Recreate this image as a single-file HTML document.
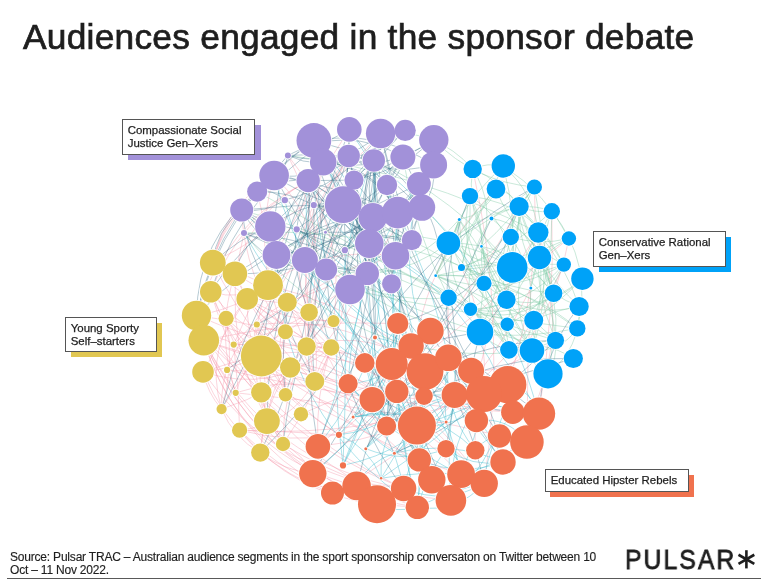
<!DOCTYPE html>
<html><head><meta charset="utf-8"><style>
html,body{margin:0;padding:0;background:#fff;}
.t{will-change:transform;}
body{width:768px;height:587px;position:relative;overflow:hidden;font-family:"Liberation Sans",sans-serif;color:#1e1e1e;}
.title{position:absolute;left:22.5px;top:17px;font-size:35.3px;font-weight:normal;-webkit-text-stroke:0.7px #1e1e1e;white-space:nowrap;letter-spacing:0.26px;}
.lab{position:absolute;background:#fff;border:1px solid #555;font-size:11.45px;line-height:13px;color:#1e1e1e;box-sizing:border-box;padding:4px 0 0 4.7px;-webkit-text-stroke:0.25px #1e1e1e;white-space:nowrap;}
.sh{position:absolute;}
.src{position:absolute;left:9.5px;top:550.5px;font-size:12px;line-height:13.3px;letter-spacing:-0.2px;-webkit-text-stroke:0.15px #1e1e1e;color:#1e1e1e;white-space:nowrap;}
.rule{position:absolute;left:7px;top:578px;width:754px;height:1px;background:#595959;}
.logo{position:absolute;left:624.5px;top:543.5px;font-size:27.6px;letter-spacing:2.2px;-webkit-text-stroke:0.8px #1e1e1e;transform:scaleX(0.9);transform-origin:0 0;color:#1e1e1e;white-space:nowrap;}
svg{position:absolute;left:0;top:0;}
</style></head><body>
<div class="title t">Audiences engaged in the sponsor debate</div>
<svg width="768" height="587" viewBox="0 0 768 587">
<path fill="none" stroke="#f59aae" stroke-width="0.7" stroke-opacity="0.6" d="M261.3 392.4Q278.8 364.2 285.4 331.7M285.4 331.7Q307.6 352.1 314.8 381.4M261.3 356.0Q233.4 368.6 203.0 371.9M287.3 302.3Q238.3 304.7 212.8 262.7M306.6 346.5Q316.0 329.5 333.5 321.1M261.3 392.4Q264.8 406.6 266.9 421.1M287.3 302.3Q256.2 356.8 221.6 409.1M268.0 285.2Q240.9 301.3 210.8 291.8M309.1 312.3Q279.3 346.9 233.7 344.6M331.2 347.5Q273.8 395.0 203.0 371.9M301.0 414.2Q245.2 370.0 247.2 298.9M235.7 392.8Q228.5 361.2 203.8 340.3M331.2 347.5Q256.1 351.8 210.8 291.8M331.2 347.5Q314.2 399.3 283.0 444.0M221.6 409.1Q203.0 346.7 247.2 298.9M210.8 291.8Q233.8 353.7 285.5 394.7M266.9 421.1Q242.5 352.9 268.0 285.2M283.0 444.0Q282.4 392.2 306.6 346.5M221.6 409.1Q233.3 437.7 260.3 452.6M203.0 371.9Q207.4 393.0 221.6 409.1M226.1 318.3Q223.7 302.0 210.8 291.8M256.8 324.5Q269.7 310.2 287.3 302.3M285.5 394.7Q288.2 352.6 256.8 324.5M333.5 321.1Q287.1 322.7 247.2 298.9M260.3 452.6Q264.9 391.4 306.6 346.5M256.8 324.5Q270.9 359.7 285.5 394.7M203.8 340.3Q219.9 334.1 233.7 344.6M287.3 302.3Q285.2 334.4 261.3 356.0M260.3 452.6Q272.4 388.2 256.8 324.5M283.0 444.0Q254.7 404.3 261.3 356.0M221.6 409.1Q219.7 358.7 256.8 324.5M331.2 347.5Q289.1 302.7 234.9 273.7M233.7 344.6Q239.1 387.2 239.6 430.2M331.2 347.5Q319.2 362.6 314.8 381.4M256.8 324.5Q270.2 348.6 290.2 367.5M261.3 356.0Q241.9 369.8 235.7 392.8M256.8 324.5Q249.8 341.6 261.3 356.0M314.8 381.4Q274.1 345.8 247.2 298.9M261.3 392.4Q232.6 343.8 210.8 291.8M287.3 302.3Q272.9 348.2 285.5 394.7M234.9 273.7Q249.0 312.4 285.4 331.7M256.8 324.5Q270.5 330.5 285.4 331.7M239.6 430.2Q289.7 425.1 314.8 381.4M283.0 444.0Q257.9 381.1 203.8 340.3M235.7 392.8Q215.4 333.4 234.9 273.7M285.4 331.7Q280.7 363.2 285.5 394.7M309.1 312.3Q323.0 328.1 331.2 347.5M234.9 273.7Q241.2 286.2 247.2 298.9M314.8 381.4Q269.9 372.6 233.7 344.6M331.2 347.5Q282.5 344.1 233.7 344.6M309.1 312.3Q320.2 346.2 314.8 381.4M247.2 298.9Q223.2 311.3 196.5 315.5M266.9 421.1Q271.5 375.7 306.6 346.5M221.6 409.1Q235.2 364.3 226.1 318.3M333.5 321.1Q291.4 320.3 268.0 285.2M344.9 250.2Q352.2 320.9 314.8 381.4M348.7 156.0Q288.5 262.2 314.8 381.4M274.1 175.5Q332.5 233.4 309.1 312.3M241.7 210.0Q244.4 277.7 285.4 331.7M380.6 133.5Q308.5 213.4 212.8 262.7M373.8 160.5Q318.4 245.6 306.6 346.5M257.2 191.6Q273.3 271.8 306.6 346.5M411.8 240.1Q330.3 275.0 256.8 324.5M274.1 175.5Q250.2 255.7 285.4 331.7M287.9 155.4Q335.6 247.2 306.6 346.5M348.7 156.0Q294.7 244.0 306.6 346.5M367.3 273.4Q326.6 375.8 221.6 409.1M418.9 184.0Q365.3 309.3 233.7 344.6M244.0 233.0Q214.1 347.6 283.0 444.0M348.7 156.0Q292.5 224.9 309.1 312.3M323.2 162.1Q310.6 269.1 233.7 344.6M313.8 205.1Q285.6 257.6 309.1 312.3M411.8 240.1Q354.1 280.2 287.3 302.3M287.9 155.4Q347.8 228.0 333.5 321.1M349.3 129.4Q281.0 231.3 233.7 344.6M395.5 255.8Q311.8 244.6 247.2 298.9M276.5 255.0Q236.0 311.1 203.0 371.9M203.8 340.3Q289.3 366.2 372.2 399.6M227.1 369.9Q381.0 406.6 539.0 413.6M247.2 298.9Q350.0 369.3 446.0 448.7M283.0 444.0Q302.6 454.1 312.8 473.6M196.5 315.5Q349.0 334.7 476.4 420.6M227.1 369.9Q365.7 373.6 461.1 474.2M247.2 298.9Q364.8 391.2 512.8 412.3M285.5 394.7Q366.4 424.0 431.8 479.8M226.1 318.3Q307.7 430.3 446.1 422.0M256.8 324.5Q350.4 314.2 425.0 371.6M203.0 371.9Q313.9 331.2 425.0 371.6M247.2 298.9Q305.6 371.6 396.8 391.4M235.7 392.8Q383.2 406.0 526.9 442.0M196.5 315.5Q306.1 362.5 425.0 371.6M268.0 285.2Q396.0 316.2 476.4 420.6M261.3 356.0Q355.0 367.4 394.4 453.2M261.3 356.0Q291.0 404.4 338.9 434.8M331.2 347.5Q424.3 396.7 484.2 483.4M212.8 262.7Q323.5 300.2 396.8 391.4M235.7 392.8Q321.0 364.6 386.6 426.0M226.1 318.3Q268.4 390.2 338.9 434.8M314.8 381.4Q388.5 434.5 450.9 500.4M226.1 318.3Q278.4 367.3 348.1 383.7M283.0 444.0Q360.2 492.4 450.9 500.4M239.6 430.2Q365.7 438.4 484.0 394.0M301.0 414.2Q373.1 381.9 448.4 357.8M203.8 340.3Q365.8 402.7 539.0 413.6M268.0 285.2Q330.9 337.9 353.1 417.0M261.3 356.0Q399.0 373.8 484.2 483.4M239.6 430.2Q289.3 431.5 338.9 434.8M212.8 262.7Q291.5 421.9 461.1 474.2M331.2 347.5Q315.0 395.7 317.9 446.4M239.6 430.2Q339.9 456.8 424.0 396.1M203.8 340.3Q299.7 318.9 397.8 323.5M306.6 346.5Q372.8 326.2 425.0 371.6M484.0 394.0Q488.3 327.9 461.5 267.4M317.9 446.4Q493.5 426.7 563.8 264.6M317.9 446.4Q441.1 339.7 568.9 238.5M476.4 420.6Q443.7 363.4 448.6 297.7M526.9 442.0Q527.0 365.0 530.8 288.1M338.9 434.8Q450.8 337.9 519.1 206.5M503.0 462.0Q579.7 356.3 538.3 232.5M416.9 425.6Q397.6 287.6 496.0 189.0M332.5 493.0Q466.6 424.3 530.8 288.1M471.1 370.8Q505.6 372.8 532.0 350.5M484.2 483.4Q508.1 325.1 472.7 168.9M507.8 384.7Q539.6 288.3 534.4 187.0M539.0 413.6Q554.9 313.0 551.8 211.2M484.0 394.0Q552.2 330.3 568.9 238.5M475.3 450.2Q468.7 330.3 538.3 232.5M196.5 315.5Q223.5 435.7 332.5 493.0M203.8 340.3Q267.3 463.4 403.6 488.5M196.5 315.5Q276.7 429.9 403.6 488.5M203.0 371.9Q276.0 477.1 403.6 488.5M203.8 340.3Q238.1 423.4 312.8 473.6M203.8 340.3Q264.4 482.9 417.3 507.4M260.3 452.6Q283.6 470.4 312.8 473.6M203.8 340.3Q259.8 454.6 377.0 504.3M210.8 291.8Q257.7 453.6 417.3 507.4M196.5 315.5Q271.3 436.5 403.6 488.5M239.6 430.2Q313.3 503.6 417.3 507.4M239.6 430.2Q293.7 494.4 377.0 504.3M203.8 340.3Q238.3 457.1 356.6 485.9M203.0 371.9Q240.8 461.2 332.5 493.0M212.8 262.7Q220.3 232.5 241.7 210.0M212.8 262.7Q222.9 219.6 257.2 191.6M210.8 291.8Q238.9 218.1 308.2 180.6M196.5 315.5Q223.8 224.4 308.2 180.6M212.8 262.7Q224.6 205.9 274.1 175.5M234.9 273.7Q251.6 211.5 308.2 180.6"/>
<path fill="none" stroke="#7fcaa6" stroke-width="0.7" stroke-opacity="0.6" d="M551.8 211.2Q534.8 213.4 519.1 206.5M503.3 166.0Q546.1 193.2 568.9 238.5M459.3 219.4Q461.2 281.9 507.2 324.3M563.8 264.6Q526.6 306.6 470.5 309.3M508.9 349.9Q533.4 350.7 555.5 340.3M519.1 206.5Q506.5 252.2 461.5 267.4M568.9 238.5Q517.7 266.8 507.2 324.3M461.5 267.4Q471.5 232.4 470.0 196.1M563.8 264.6Q545.2 232.6 519.1 206.5M512.2 267.4Q511.9 224.1 534.4 187.0M548.0 373.8Q580.8 348.1 579.1 306.5M461.5 267.4Q447.2 244.0 459.3 219.4M539.5 257.5Q526.5 224.4 491.5 218.4M563.8 264.6Q515.4 239.8 496.0 189.0M435.7 275.7Q484.7 298.0 533.7 320.2M568.9 238.5Q517.9 262.8 461.5 267.4M470.0 196.1Q535.9 204.3 563.8 264.6M508.9 349.9Q491.7 345.4 480.0 332.0M533.7 320.2Q553.1 267.4 551.8 211.2M507.2 324.3Q530.9 333.6 555.5 340.3M470.5 309.3Q494.4 325.2 508.9 349.9M448.4 243.2Q482.6 249.3 512.2 267.4M459.3 219.4Q438.5 267.6 470.5 309.3M496.0 189.0Q486.5 214.9 459.3 219.4M563.8 264.6Q547.6 305.9 507.2 324.3M519.1 206.5Q517.1 257.5 553.6 293.2M435.7 275.7Q489.7 278.6 539.5 257.5M568.9 238.5Q539.6 245.8 510.8 237.0M506.5 299.8Q550.4 310.8 582.4 278.7M548.0 373.8Q526.3 333.6 530.8 288.1M484.0 283.4Q462.7 266.4 448.4 243.2M553.6 293.2Q535.0 250.4 519.1 206.5M508.9 349.9Q479.6 302.3 481.5 246.4M472.7 168.9Q501.2 181.1 519.1 206.5M519.1 206.5Q530.3 218.3 538.3 232.5M470.0 196.1Q487.3 238.1 484.0 283.4M512.2 267.4Q518.8 237.3 519.1 206.5M532.0 350.5Q546.3 292.1 538.3 232.5M555.5 340.3Q532.9 288.6 538.3 232.5M538.3 232.5Q533.8 192.4 503.3 166.0M470.0 196.1Q508.8 221.2 512.2 267.4M503.3 166.0Q476.9 189.1 459.3 219.4M551.8 211.2Q536.2 252.6 553.6 293.2M539.5 257.5Q559.2 296.6 555.5 340.3M508.9 349.9Q543.2 338.4 573.3 358.5M480.0 332.0Q534.4 313.8 563.8 264.6M448.4 243.2Q476.8 264.5 512.2 267.4M553.6 293.2Q542.7 240.3 534.4 187.0M435.7 275.7Q477.2 225.6 503.3 166.0M481.5 246.4Q511.5 219.9 534.4 187.0M484.0 283.4Q452.9 258.6 459.3 219.4M461.5 267.4Q513.1 249.7 551.8 211.2M532.0 350.5Q482.3 315.1 435.7 275.7M484.0 283.4Q521.7 254.1 519.1 206.5M470.0 196.1Q454.8 236.7 435.7 275.7M508.9 349.9Q530.1 342.4 533.7 320.2M553.6 293.2Q513.5 241.9 448.4 243.2M448.4 243.2Q494.1 219.3 534.4 187.0M538.3 232.5Q552.0 292.4 532.0 350.5M506.5 299.8Q487.9 256.7 459.3 219.4M508.9 349.9Q504.3 297.6 461.5 267.4M506.5 299.8Q509.3 283.6 512.2 267.4M555.5 340.3Q504.2 349.0 470.5 309.3M533.7 320.2Q500.8 322.3 470.5 309.3M538.3 232.5Q565.6 265.7 579.1 306.5M530.8 288.1Q525.4 245.2 491.5 218.4M582.4 278.7Q533.4 319.5 470.5 309.3M481.5 246.4Q495.8 205.5 472.7 168.9M435.7 275.7Q498.9 260.3 563.8 264.6M470.5 309.3Q516.9 326.1 553.6 293.2M534.4 187.0Q491.7 236.3 506.5 299.8M461.5 267.4Q468.4 223.7 496.0 189.0M496.0 189.0Q458.8 227.5 435.7 275.7M461.5 267.4Q484.0 296.2 507.2 324.3M481.5 246.4Q484.9 277.4 506.5 299.8M470.5 309.3Q507.3 343.8 548.0 373.8M519.1 206.5Q512.1 191.7 496.0 189.0M579.1 306.5Q555.5 310.2 533.7 320.2M459.3 219.4Q448.0 247.8 435.7 275.7M510.8 237.0Q500.3 286.1 480.0 332.0M435.7 275.7Q461.0 272.5 484.0 283.4M563.8 264.6Q513.0 278.2 470.5 309.3M484.0 283.4Q480.3 307.6 480.0 332.0M470.5 309.3Q462.9 259.7 491.5 218.4M510.8 237.0Q513.8 207.9 534.4 187.0M555.5 340.3Q557.4 358.3 548.0 373.8M582.4 278.7Q559.9 301.6 533.7 320.2M539.5 257.5Q519.3 236.0 519.1 206.5M530.8 288.1Q532.7 272.1 539.5 257.5M481.5 246.4Q483.3 219.5 470.0 196.1M579.1 306.5Q565.7 301.2 553.6 293.2M553.6 293.2Q505.0 289.2 461.5 267.4M461.5 267.4Q491.3 273.5 506.5 299.8M448.4 243.2Q478.7 215.1 519.1 206.5M539.5 257.5Q548.7 274.5 553.6 293.2M484.0 283.4Q457.5 242.9 470.0 196.1M507.2 324.3Q491.4 320.5 480.0 332.0M532.0 350.5Q560.9 352.3 577.3 328.4M539.5 257.5Q538.0 232.3 551.8 211.2M538.3 232.5Q501.7 289.7 532.0 350.5M551.8 211.2Q593.7 263.5 577.3 328.4M503.3 166.0Q487.5 162.3 472.7 168.9M512.2 267.4Q516.6 215.9 503.3 166.0M484.0 283.4Q476.5 249.5 459.3 219.4M532.0 350.5Q522.7 334.4 507.2 324.3M491.5 218.4Q519.8 199.3 551.8 211.2M532.0 350.5Q499.8 301.8 481.5 246.4M512.2 267.4Q463.5 229.8 472.7 168.9M484.0 283.4Q536.6 293.5 577.3 328.4M530.8 288.1Q534.7 272.7 539.5 257.5M539.5 257.5Q561.4 314.4 548.0 373.8M579.1 306.5Q525.4 320.3 484.0 283.4M481.5 246.4Q496.8 310.4 555.5 340.3M579.1 306.5Q534.5 265.2 519.1 206.5M512.2 267.4Q554.2 291.7 555.5 340.3M506.5 299.8Q490.2 311.1 470.5 309.3M435.7 275.7Q491.6 293.8 508.9 349.9M555.5 340.3Q507.9 301.7 481.5 246.4M481.5 246.4Q497.3 256.3 512.2 267.4M563.8 264.6Q502.4 300.2 435.7 275.7M344.9 250.2Q395.2 225.6 448.4 243.2M241.7 210.0Q399.6 253.8 532.0 350.5M350.0 289.5Q462.7 314.5 577.3 328.4M326.1 269.5Q440.8 256.6 508.9 349.9M421.9 207.5Q490.4 268.6 532.0 350.5M304.9 260.0Q381.6 293.8 448.4 243.2M257.2 191.6Q362.9 252.2 470.5 309.3M402.9 157.0Q414.1 231.1 448.6 297.7M313.8 205.1Q392.1 225.8 461.5 267.4M380.6 133.5Q435.7 127.7 472.7 168.9M296.7 229.3Q369.4 270.8 448.6 297.7M373.8 160.5Q455.6 197.6 512.2 267.4M244.0 233.0Q354.8 373.2 532.0 350.5M244.0 233.0Q427.1 223.1 577.3 328.4M433.8 139.8Q475.3 182.1 534.4 187.0M241.7 210.0Q350.4 291.3 480.0 332.0M287.9 155.4Q419.9 171.9 538.3 232.5M296.7 229.3Q407.5 362.4 577.3 328.4M367.3 273.4Q422.4 261.8 459.3 219.4M326.1 269.5Q382.6 304.4 448.6 297.7"/>
<path fill="none" stroke="#3dbbd0" stroke-width="0.7" stroke-opacity="0.6" d="M461.1 474.2Q420.8 471.0 381.1 478.3M484.0 394.0Q436.7 441.3 381.1 478.3M348.1 383.7Q389.8 381.8 411.1 346.0M396.8 391.4Q401.0 411.4 386.6 426.0M396.8 391.4Q381.8 416.0 353.1 417.0M411.1 346.0Q420.8 370.2 424.0 396.1M446.1 422.0Q466.4 390.6 448.4 357.8M372.2 399.6Q418.2 410.5 446.0 448.7M450.9 500.4Q444.4 487.3 431.8 479.8M348.1 383.7Q374.0 418.6 416.9 425.6M446.0 448.7Q405.9 464.6 365.8 448.7M397.8 323.5Q386.5 347.6 364.8 362.9M475.3 450.2Q423.3 400.2 353.1 417.0M507.8 384.7Q465.9 413.0 416.9 425.6M364.8 362.9Q390.0 360.2 411.1 346.0M454.6 395.0Q477.1 429.7 503.0 462.0M365.8 448.7Q404.5 412.4 454.6 395.0M512.8 412.3Q487.1 443.3 484.2 483.4M375.0 337.4Q420.6 369.8 416.9 425.6M539.0 413.6Q499.6 391.8 454.6 395.0M417.3 507.4Q426.8 475.7 446.0 448.7M446.0 448.7Q460.5 457.3 461.1 474.2M476.4 420.6Q508.0 416.3 526.9 442.0M417.3 507.4Q457.2 513.3 484.2 483.4M391.7 364.0Q417.5 355.1 430.4 331.0M425.0 371.6Q371.9 407.9 343.0 465.4M394.4 453.2Q410.4 443.3 416.9 425.6M338.9 434.8Q369.6 447.3 381.1 478.3M381.1 478.3Q378.3 424.6 424.0 396.1M396.8 391.4Q425.4 446.2 417.3 507.4M446.1 422.0Q422.8 441.9 394.4 453.2M419.3 459.9Q432.7 425.2 454.6 395.0M353.1 417.0Q377.2 394.0 391.7 364.0M403.6 488.5Q411.3 446.6 446.1 422.0M338.9 434.8Q400.4 428.4 425.0 371.6M539.0 413.6Q515.2 463.3 461.1 474.2M425.0 371.6Q389.1 394.4 353.1 417.0M365.8 448.7Q386.5 413.1 424.0 396.1M353.1 417.0Q371.1 438.1 394.4 453.2M403.6 488.5Q392.2 427.5 348.1 383.7M476.4 420.6Q495.8 437.4 503.0 462.0M539.0 413.6Q496.1 407.4 454.6 395.0M424.0 396.1Q471.0 390.1 512.8 412.3M454.6 395.0Q457.4 410.7 446.1 422.0M484.0 394.0Q447.8 441.1 450.9 500.4M450.9 500.4Q436.6 460.2 394.4 453.2M425.0 371.6Q410.7 348.0 397.8 323.5M484.0 394.0Q411.3 392.0 365.8 448.7M484.0 394.0Q456.4 385.5 448.4 357.8M417.3 507.4Q396.6 513.2 377.0 504.3M419.3 459.9Q419.7 427.9 424.0 396.1M397.8 323.5Q407.4 349.8 425.0 371.6M503.0 462.0Q471.6 467.6 446.0 448.7M507.8 384.7Q531.4 390.5 539.0 413.6M450.9 500.4Q501.2 453.3 507.8 384.7M446.1 422.0Q400.1 409.5 353.1 417.0M424.0 396.1Q451.4 431.0 461.1 474.2M343.0 465.4Q361.8 412.0 391.7 364.0M386.6 426.0Q368.6 403.7 348.1 383.7M484.2 483.4Q445.2 505.7 403.6 488.5M372.2 399.6Q376.3 414.5 386.6 426.0M353.1 417.0Q374.1 375.0 411.1 346.0M450.9 500.4Q445.8 447.5 454.6 395.0M386.6 426.0Q458.2 437.5 507.8 384.7M338.9 434.8Q353.9 415.7 372.2 399.6M364.8 362.9Q372.8 395.5 386.6 426.0M503.0 462.0Q450.1 439.8 394.4 453.2M471.1 370.8Q421.7 366.9 397.8 323.5M396.8 391.4Q403.8 455.8 450.9 500.4M386.6 426.0Q378.5 393.5 364.8 362.9M503.0 462.0Q460.7 477.4 419.3 459.9M475.3 450.2Q484.5 438.2 499.5 436.0M372.2 399.6Q373.6 377.2 391.7 364.0M381.1 478.3Q407.9 427.9 454.6 395.0M375.0 337.4Q373.2 405.0 343.0 465.4M417.3 507.4Q449.1 490.9 484.2 483.4M372.2 399.6Q413.8 460.7 484.2 483.4M484.0 394.0Q477.1 435.4 461.1 474.2M454.6 395.0Q412.2 451.4 343.0 465.4M386.6 426.0Q420.3 443.6 431.8 479.8M475.3 450.2Q442.4 409.7 448.4 357.8M454.6 395.0Q428.1 347.9 375.0 337.4M317.9 446.4Q357.4 397.7 375.0 337.4M446.1 422.0Q443.0 389.7 448.4 357.8M394.4 453.2Q368.7 461.6 356.6 485.9M433.6 164.9Q353.8 259.8 348.1 383.7M244.0 233.0Q340.9 406.0 539.0 413.6M380.6 133.5Q345.1 330.5 450.9 500.4M397.7 212.6Q381.7 361.7 417.3 507.4M276.5 255.0Q280.7 418.1 417.3 507.4M369.3 243.6Q474.9 299.1 512.8 412.3M313.9 140.5Q396.3 222.9 375.0 337.4M323.2 162.1Q404.7 282.1 386.6 426.0M274.1 175.5Q300.5 294.6 411.1 346.0M373.8 160.5Q374.8 243.6 397.8 323.5M241.7 210.0Q328.7 292.6 396.8 391.4M395.5 255.8Q384.9 383.5 417.3 507.4M296.7 229.3Q426.7 319.7 461.1 474.2M387.0 185.0Q410.8 273.9 391.7 364.0M380.6 133.5Q318.9 294.6 343.0 465.4M313.9 140.5Q306.5 304.3 416.9 425.6M304.9 260.0Q319.9 320.1 364.8 362.9M276.5 255.0Q373.5 301.3 424.0 396.1M373.8 160.5Q497.1 260.5 539.0 413.6M349.3 129.4Q421.4 233.8 448.4 357.8M313.8 205.1Q382.2 261.9 411.1 346.0M367.3 273.4Q349.2 361.8 317.9 446.4M395.5 255.8Q486.6 317.1 539.0 413.6M308.2 180.6Q294.9 284.7 364.8 362.9M313.9 140.5Q380.3 261.7 372.2 399.6M284.8 200.1Q317.7 342.9 454.6 395.0M418.9 184.0Q388.6 297.6 454.6 395.0M372.8 217.3Q440.5 355.4 417.3 507.4M344.9 250.2Q347.5 357.8 343.0 465.4M395.5 255.8Q418.7 389.2 312.8 473.6"/>
<path fill="none" stroke="#2f6680" stroke-width="0.7" stroke-opacity="0.5" d="M373.8 160.5Q395.5 186.4 421.9 207.5M411.8 240.1Q343.5 239.1 308.2 180.6M325.5 232.2Q310.4 238.2 296.7 229.3M348.7 156.0Q363.3 213.9 367.3 273.4M380.6 133.5Q340.2 169.7 287.9 155.4M433.8 139.8Q395.9 163.8 354.0 180.1M344.9 250.2Q377.9 206.1 402.9 157.0M373.8 160.5Q377.4 222.9 391.5 283.7M373.8 160.5Q356.2 216.1 367.3 273.4M308.2 180.6Q331.9 218.7 369.3 243.6M325.5 232.2Q371.2 206.2 418.9 184.0M304.9 260.0Q357.1 219.7 421.9 207.5M257.2 191.6Q273.1 188.9 284.8 200.1M387.0 185.0Q391.5 220.4 395.5 255.8M372.8 217.3Q329.4 248.4 276.5 255.0M411.8 240.1Q352.1 257.8 296.7 229.3M372.8 217.3Q416.8 206.9 433.6 164.9M296.7 229.3Q350.7 193.9 349.3 129.4M350.0 289.5Q374.3 230.1 418.9 184.0M397.7 212.6Q382.0 226.7 369.3 243.6M348.7 156.0Q346.7 180.4 343.2 204.7M387.0 185.0Q337.6 226.3 350.0 289.5M276.5 255.0Q325.0 227.6 354.0 180.1M397.7 212.6Q373.8 167.7 323.2 162.1M397.7 212.6Q338.4 185.8 274.1 175.5M369.3 243.6Q356.3 186.6 380.6 133.5M354.0 180.1Q399.7 171.4 433.8 139.8M369.3 243.6Q341.5 203.9 348.7 156.0M244.0 233.0Q311.0 236.8 367.3 273.4M367.3 273.4Q363.8 236.1 343.2 204.7M397.7 212.6Q330.2 184.5 270.3 226.4M433.6 164.9Q389.4 176.9 348.7 156.0M313.9 140.5Q321.1 203.1 369.3 243.6M257.2 191.6Q287.3 190.9 313.8 205.1M344.9 250.2Q386.2 233.9 421.9 207.5M418.9 184.0Q431.4 163.6 433.8 139.8M411.8 240.1Q393.4 187.6 380.6 133.5M367.3 273.4Q303.2 260.7 244.0 233.0M326.1 269.5Q275.5 272.8 244.0 233.0M405.2 130.4Q358.5 159.0 308.2 180.6M402.9 157.0Q384.2 185.3 372.8 217.3M373.8 160.5Q344.7 148.1 313.9 140.5M344.9 250.2Q383.5 213.1 373.8 160.5M323.2 162.1Q371.3 164.7 405.2 130.4M313.8 205.1Q355.3 214.0 397.7 212.6M402.9 157.0Q360.5 190.4 369.3 243.6M326.1 269.5Q335.6 212.1 387.0 185.0M373.8 160.5Q365.1 188.8 372.8 217.3M326.1 269.5Q301.0 222.0 274.1 175.5M308.2 180.6Q358.1 211.0 395.5 255.8M344.9 250.2Q347.7 202.8 323.2 162.1M387.0 185.0Q371.3 166.0 348.7 156.0M313.8 205.1Q358.7 223.9 395.5 255.8M274.1 175.5Q329.8 214.2 397.7 212.6M411.8 240.1Q394.2 225.5 372.8 217.3M241.7 210.0Q265.1 213.3 284.8 200.1M287.9 155.4Q264.2 182.2 241.7 210.0M397.7 212.6Q375.3 165.5 323.2 162.1M343.2 204.7Q344.0 239.6 326.1 269.5M397.7 212.6Q329.3 211.4 276.5 255.0M348.7 156.0Q318.2 170.2 287.9 155.4M326.1 269.5Q278.1 248.0 241.7 210.0M326.1 269.5Q318.4 205.2 313.9 140.5M397.7 212.6Q384.6 174.5 348.7 156.0M241.7 210.0Q270.0 259.4 326.1 269.5M325.5 232.2Q345.5 213.0 372.8 217.3M244.0 233.0Q276.0 242.9 304.9 260.0M348.7 156.0Q315.3 180.5 274.1 175.5M433.8 139.8Q383.2 174.1 323.2 162.1M326.1 269.5Q350.2 226.3 397.7 212.6M373.8 160.5Q370.4 211.4 395.5 255.8M241.7 210.0Q266.6 176.5 308.2 180.6M308.2 180.6Q331.1 180.4 354.0 180.1M391.5 283.7Q390.8 229.9 418.9 184.0M380.6 133.5Q370.3 177.1 397.7 212.6M391.5 283.7Q392.2 269.6 395.5 255.8M411.8 240.1Q424.7 190.4 433.8 139.8M323.2 162.1Q284.4 200.8 276.5 255.0M313.9 140.5Q378.5 129.2 433.6 164.9M418.9 184.0Q405.9 219.5 395.5 255.8M326.1 269.5Q375.0 226.0 373.8 160.5M380.6 133.5Q345.0 184.5 284.8 200.1M349.3 129.4Q361.4 145.1 373.8 160.5M367.3 273.4Q362.6 210.9 323.2 162.1M418.9 184.0Q411.8 211.6 411.8 240.1M241.7 210.0Q292.3 204.4 343.2 204.7M395.5 255.8Q367.5 209.7 313.8 205.1M241.7 210.0Q268.9 224.9 276.5 255.0M325.5 232.2Q347.8 167.6 405.2 130.4M387.0 185.0Q401.6 174.8 402.9 157.0M433.6 164.9Q436.9 188.7 421.9 207.5M287.9 155.4Q331.2 152.7 373.8 160.5M369.3 243.6Q341.7 181.6 274.1 175.5M325.5 232.2Q369.1 231.2 411.8 240.1M296.7 229.3Q267.5 224.4 241.7 210.0M348.7 156.0Q400.1 160.6 421.9 207.5M367.3 273.4Q335.6 268.9 304.9 260.0M323.2 162.1Q303.3 199.6 270.3 226.4M354.0 180.1Q366.3 226.1 411.8 240.1M402.9 157.0Q345.9 123.7 287.9 155.4M323.2 162.1Q275.1 233.3 309.1 312.3M287.9 155.4Q249.2 274.6 314.8 381.4M308.2 180.6Q271.8 264.8 261.3 356.0M405.2 130.4Q298.1 233.6 314.8 381.4M433.6 164.9Q365.1 275.7 234.9 273.7M373.8 160.5Q269.4 254.9 285.5 394.7M397.7 212.6Q312.1 237.6 247.2 298.9M323.2 162.1Q303.3 237.1 234.9 273.7M349.3 129.4Q350.6 281.3 227.1 369.9M349.3 129.4Q245.3 181.0 210.8 291.8M421.9 207.5Q288.6 218.6 196.5 315.5M344.9 250.2Q294.9 341.0 283.0 444.0M270.3 226.4Q278.1 256.1 268.0 285.2M308.2 180.6Q317.4 244.1 268.0 285.2M348.7 156.0Q267.8 276.2 266.9 421.1M354.0 180.1Q370.2 274.7 306.6 346.5M373.8 160.5Q259.3 261.3 221.6 409.1M308.2 180.6Q313.2 258.6 285.4 331.7M325.5 232.2Q317.7 298.1 256.8 324.5M313.8 205.1Q319.3 335.8 260.3 452.6M421.9 207.5Q367.4 347.4 260.3 452.6M411.8 240.1Q336.8 271.1 306.6 346.5M323.2 162.1Q285.3 290.9 221.6 409.1M325.5 232.2Q309.5 290.8 331.2 347.5M397.7 212.6Q335.7 268.4 306.6 346.5M386.6 426.0Q466.5 355.0 573.3 358.5M312.8 473.6Q442.9 360.9 519.1 206.5M356.6 485.9Q383.5 361.5 484.0 283.4M312.8 473.6Q384.9 360.9 448.4 243.2M365.8 448.7Q436.3 337.7 491.5 218.4M539.0 413.6Q542.0 353.7 579.1 306.5M471.1 370.8Q475.4 351.4 480.0 332.0M411.1 346.0Q445.3 337.6 480.0 332.0M396.8 391.4Q468.4 341.7 555.5 340.3M372.2 399.6Q475.2 391.1 573.3 358.5M397.8 323.5Q472.0 303.4 510.8 237.0M394.4 453.2Q486.1 412.7 555.5 340.3M394.4 453.2Q443.6 371.5 506.5 299.8M317.9 446.4Q376.4 275.2 534.4 187.0M503.0 462.0Q410.0 338.5 470.0 196.1M349.3 129.4Q288.6 283.4 317.9 446.4M372.8 217.3Q397.9 294.8 425.0 371.6M369.3 243.6Q424.4 309.8 396.8 391.4M296.7 229.3Q447.3 314.4 484.2 483.4M373.8 160.5Q378.9 274.2 348.1 383.7M326.1 269.5Q372.1 378.1 431.8 479.8M308.2 180.6Q413.8 300.9 499.5 436.0M325.5 232.2Q426.4 329.8 539.0 413.6M354.0 180.1Q449.0 295.4 499.5 436.0M369.3 243.6Q396.1 333.1 386.6 426.0M343.2 204.7Q405.0 325.2 419.3 459.9M308.2 180.6Q381.0 339.8 450.9 500.4M402.9 157.0Q478.3 294.9 446.0 448.7M387.0 185.0Q419.4 282.3 471.1 370.8M348.7 156.0Q372.9 245.1 375.0 337.4M367.3 273.4Q372.8 350.2 386.6 426.0M380.6 133.5Q418.6 279.0 386.6 426.0M313.9 140.5Q381.1 227.6 375.0 337.4M326.1 269.5Q333.7 403.0 417.3 507.4M380.6 133.5Q319.7 306.2 419.3 459.9M212.8 262.7Q215.9 230.1 241.7 210.0M196.5 315.5Q219.4 204.0 313.9 140.5M196.5 315.5Q223.6 262.8 270.3 226.4M196.5 315.5Q222.2 205.8 313.9 140.5M234.9 273.7Q242.4 242.4 270.3 226.4M268.0 285.2Q246.4 250.6 241.7 210.0M196.5 315.5Q197.8 239.3 257.2 191.6M212.8 262.7Q237.9 238.8 270.3 226.4"/>
<g fill="#fff"><circle cx="313.9" cy="140.5" r="18.2"/><circle cx="323.2" cy="162.1" r="14.1"/><circle cx="349.3" cy="129.4" r="13.1"/><circle cx="380.6" cy="133.5" r="15.5"/><circle cx="405.2" cy="130.4" r="11.4"/><circle cx="348.7" cy="156" r="12.0"/><circle cx="373.8" cy="160.5" r="12.0"/><circle cx="402.9" cy="157" r="13.3"/><circle cx="433.8" cy="139.8" r="15.5"/><circle cx="433.6" cy="164.9" r="14.3"/><circle cx="274.1" cy="175.5" r="15.6"/><circle cx="257.2" cy="191.6" r="10.9"/><circle cx="241.7" cy="210" r="12.3"/><circle cx="308.2" cy="180.6" r="12.5"/><circle cx="287.9" cy="155.4" r="3.8"/><circle cx="284.8" cy="200.1" r="4.0"/><circle cx="313.8" cy="205.1" r="3.9"/><circle cx="343.2" cy="204.7" r="19.2"/><circle cx="354" cy="180.1" r="10.4"/><circle cx="387" cy="185" r="11.0"/><circle cx="418.9" cy="184" r="12.7"/><circle cx="372.8" cy="217.3" r="15.1"/><circle cx="397.7" cy="212.6" r="16.6"/><circle cx="421.9" cy="207.5" r="14.1"/><circle cx="270.3" cy="226.4" r="16.0"/><circle cx="244" cy="233" r="3.8"/><circle cx="296.7" cy="229.3" r="3.9"/><circle cx="325.5" cy="232.2" r="2.3"/><circle cx="276.5" cy="255" r="14.7"/><circle cx="304.9" cy="260" r="13.8"/><circle cx="326.1" cy="269.5" r="11.8"/><circle cx="369.3" cy="243.6" r="15.1"/><circle cx="411.8" cy="240.1" r="10.9"/><circle cx="395.5" cy="255.8" r="14.6"/><circle cx="344.9" cy="250.2" r="3.9"/><circle cx="367.3" cy="273.4" r="12.5"/><circle cx="350" cy="289.5" r="15.6"/><circle cx="391.5" cy="283.7" r="10.3"/><circle cx="472.7" cy="168.9" r="10.0"/><circle cx="470" cy="196.1" r="9.0"/><circle cx="503.3" cy="166" r="12.5"/><circle cx="496" cy="189" r="10.2"/><circle cx="534.4" cy="187" r="8.4"/><circle cx="519.1" cy="206.5" r="10.4"/><circle cx="551.8" cy="211.2" r="9.0"/><circle cx="491.5" cy="218.4" r="2.8"/><circle cx="459.3" cy="219.4" r="2.3"/><circle cx="538.3" cy="232.5" r="11.0"/><circle cx="510.8" cy="237" r="9.0"/><circle cx="568.9" cy="238.5" r="8.0"/><circle cx="481.5" cy="246.4" r="2.1"/><circle cx="448.4" cy="243.2" r="12.6"/><circle cx="512.2" cy="267.4" r="16.1"/><circle cx="539.5" cy="257.5" r="12.5"/><circle cx="563.8" cy="264.6" r="8.0"/><circle cx="461.5" cy="267.4" r="4.3"/><circle cx="435.7" cy="275.7" r="2.2"/><circle cx="484" cy="283.4" r="8.4"/><circle cx="530.8" cy="288.1" r="2.3"/><circle cx="582.4" cy="278.7" r="12.0"/><circle cx="448.6" cy="297.7" r="9.0"/><circle cx="506.5" cy="299.8" r="10.0"/><circle cx="553.6" cy="293.2" r="9.6"/><circle cx="470.5" cy="309.3" r="7.5"/><circle cx="579.1" cy="306.5" r="10.4"/><circle cx="507.2" cy="324.3" r="7.5"/><circle cx="533.7" cy="320.2" r="10.3"/><circle cx="577.3" cy="328.4" r="9.0"/><circle cx="480" cy="332" r="14.1"/><circle cx="555.5" cy="340.3" r="9.4"/><circle cx="508.9" cy="349.9" r="9.6"/><circle cx="532" cy="350.5" r="13.1"/><circle cx="573.3" cy="358.5" r="10.4"/><circle cx="548" cy="373.8" r="15.4"/><circle cx="397.8" cy="323.5" r="11.4"/><circle cx="430.4" cy="331" r="14.1"/><circle cx="375" cy="337.4" r="2.8"/><circle cx="411.1" cy="346" r="13.5"/><circle cx="391.7" cy="364" r="16.8"/><circle cx="364.8" cy="362.9" r="10.6"/><circle cx="425" cy="371.6" r="19.2"/><circle cx="448.4" cy="357.8" r="14.1"/><circle cx="471.1" cy="370.8" r="13.8"/><circle cx="396.8" cy="391.4" r="12.5"/><circle cx="372.2" cy="399.6" r="13.5"/><circle cx="424" cy="396.1" r="9.6"/><circle cx="454.6" cy="395" r="13.8"/><circle cx="507.8" cy="384.7" r="19.4"/><circle cx="484" cy="394" r="18.8"/><circle cx="512.8" cy="412.3" r="12.5"/><circle cx="539" cy="413.6" r="17.0"/><circle cx="476.4" cy="420.6" r="12.5"/><circle cx="499.5" cy="436" r="12.5"/><circle cx="526.9" cy="442" r="17.6"/><circle cx="446.1" cy="422" r="2.3"/><circle cx="446" cy="448.7" r="9.5"/><circle cx="475.3" cy="450.2" r="10.0"/><circle cx="503" cy="462" r="13.5"/><circle cx="416.9" cy="425.6" r="19.8"/><circle cx="386.6" cy="426" r="10.4"/><circle cx="353.1" cy="417" r="2.3"/><circle cx="338.9" cy="434.8" r="3.9"/><circle cx="365.8" cy="448.7" r="2.3"/><circle cx="394.4" cy="453.2" r="2.3"/><circle cx="343" cy="465.4" r="3.9"/><circle cx="381.1" cy="478.3" r="2.1"/><circle cx="419.3" cy="459.9" r="12.5"/><circle cx="431.8" cy="479.8" r="14.5"/><circle cx="403.6" cy="488.5" r="13.5"/><circle cx="356.6" cy="485.9" r="15.1"/><circle cx="332.5" cy="493" r="12.3"/><circle cx="377" cy="504.3" r="19.8"/><circle cx="417.3" cy="507.4" r="12.5"/><circle cx="461.1" cy="474.2" r="14.7"/><circle cx="484.2" cy="483.4" r="14.5"/><circle cx="450.9" cy="500.4" r="16.1"/><circle cx="348.1" cy="383.7" r="10.4"/><circle cx="317.9" cy="446.4" r="13.1"/><circle cx="312.8" cy="473.6" r="14.5"/><circle cx="212.8" cy="262.7" r="13.7"/><circle cx="234.9" cy="273.7" r="13.1"/><circle cx="210.8" cy="291.8" r="11.6"/><circle cx="268" cy="285.2" r="15.7"/><circle cx="247.2" cy="298.9" r="11.6"/><circle cx="287.3" cy="302.3" r="10.3"/><circle cx="196.5" cy="315.5" r="15.5"/><circle cx="226.1" cy="318.3" r="8.4"/><circle cx="256.8" cy="324.5" r="3.9"/><circle cx="285.4" cy="331.7" r="8.3"/><circle cx="203.8" cy="340.3" r="16.1"/><circle cx="233.7" cy="344.6" r="3.9"/><circle cx="261.3" cy="356" r="21.2"/><circle cx="309.1" cy="312.3" r="9.6"/><circle cx="333.5" cy="321.1" r="6.9"/><circle cx="306.6" cy="346.5" r="10.0"/><circle cx="331.2" cy="347.5" r="9.0"/><circle cx="290.2" cy="367.5" r="11.0"/><circle cx="314.8" cy="381.4" r="10.3"/><circle cx="285.5" cy="394.7" r="7.6"/><circle cx="301" cy="414.2" r="8.0"/><circle cx="203" cy="371.9" r="11.6"/><circle cx="227.1" cy="369.9" r="3.9"/><circle cx="235.7" cy="392.8" r="3.9"/><circle cx="261.3" cy="392.4" r="11.0"/><circle cx="221.6" cy="409.1" r="5.9"/><circle cx="266.9" cy="421.1" r="13.7"/><circle cx="239.6" cy="430.2" r="8.4"/><circle cx="283" cy="444" r="8.0"/><circle cx="260.3" cy="452.6" r="10.0"/></g>
<g fill="#a291d9"><circle cx="313.9" cy="140.5" r="17.4"/><circle cx="323.2" cy="162.1" r="13.3"/><circle cx="349.3" cy="129.4" r="12.3"/><circle cx="380.6" cy="133.5" r="14.7"/><circle cx="405.2" cy="130.4" r="10.6"/><circle cx="348.7" cy="156" r="11.2"/><circle cx="373.8" cy="160.5" r="11.2"/><circle cx="402.9" cy="157" r="12.5"/><circle cx="433.8" cy="139.8" r="14.7"/><circle cx="433.6" cy="164.9" r="13.5"/><circle cx="274.1" cy="175.5" r="14.8"/><circle cx="257.2" cy="191.6" r="10.1"/><circle cx="241.7" cy="210" r="11.5"/><circle cx="308.2" cy="180.6" r="11.7"/><circle cx="287.9" cy="155.4" r="3"/><circle cx="284.8" cy="200.1" r="3.2"/><circle cx="313.8" cy="205.1" r="3.1"/><circle cx="343.2" cy="204.7" r="18.4"/><circle cx="354" cy="180.1" r="9.6"/><circle cx="387" cy="185" r="10.2"/><circle cx="418.9" cy="184" r="11.9"/><circle cx="372.8" cy="217.3" r="14.3"/><circle cx="397.7" cy="212.6" r="15.8"/><circle cx="421.9" cy="207.5" r="13.3"/><circle cx="270.3" cy="226.4" r="15.2"/><circle cx="244" cy="233" r="3"/><circle cx="296.7" cy="229.3" r="3.1"/><circle cx="325.5" cy="232.2" r="1.5"/><circle cx="276.5" cy="255" r="13.9"/><circle cx="304.9" cy="260" r="13"/><circle cx="326.1" cy="269.5" r="11"/><circle cx="369.3" cy="243.6" r="14.3"/><circle cx="411.8" cy="240.1" r="10.1"/><circle cx="395.5" cy="255.8" r="13.8"/><circle cx="344.9" cy="250.2" r="3.1"/><circle cx="367.3" cy="273.4" r="11.7"/><circle cx="350" cy="289.5" r="14.8"/><circle cx="391.5" cy="283.7" r="9.5"/></g>
<g fill="#00a2f8"><circle cx="472.7" cy="168.9" r="9.2"/><circle cx="470" cy="196.1" r="8.2"/><circle cx="503.3" cy="166" r="11.7"/><circle cx="496" cy="189" r="9.4"/><circle cx="534.4" cy="187" r="7.6"/><circle cx="519.1" cy="206.5" r="9.6"/><circle cx="551.8" cy="211.2" r="8.2"/><circle cx="491.5" cy="218.4" r="2"/><circle cx="459.3" cy="219.4" r="1.5"/><circle cx="538.3" cy="232.5" r="10.2"/><circle cx="510.8" cy="237" r="8.2"/><circle cx="568.9" cy="238.5" r="7.2"/><circle cx="481.5" cy="246.4" r="1.3"/><circle cx="448.4" cy="243.2" r="11.8"/><circle cx="512.2" cy="267.4" r="15.3"/><circle cx="539.5" cy="257.5" r="11.7"/><circle cx="563.8" cy="264.6" r="7.2"/><circle cx="461.5" cy="267.4" r="3.5"/><circle cx="435.7" cy="275.7" r="1.4"/><circle cx="484" cy="283.4" r="7.6"/><circle cx="530.8" cy="288.1" r="1.5"/><circle cx="582.4" cy="278.7" r="11.2"/><circle cx="448.6" cy="297.7" r="8.2"/><circle cx="506.5" cy="299.8" r="9.2"/><circle cx="553.6" cy="293.2" r="8.8"/><circle cx="470.5" cy="309.3" r="6.7"/><circle cx="579.1" cy="306.5" r="9.6"/><circle cx="507.2" cy="324.3" r="6.7"/><circle cx="533.7" cy="320.2" r="9.5"/><circle cx="577.3" cy="328.4" r="8.2"/><circle cx="480" cy="332" r="13.3"/><circle cx="555.5" cy="340.3" r="8.6"/><circle cx="508.9" cy="349.9" r="8.8"/><circle cx="532" cy="350.5" r="12.3"/><circle cx="573.3" cy="358.5" r="9.6"/><circle cx="548" cy="373.8" r="14.6"/></g>
<g fill="#f0724e"><circle cx="397.8" cy="323.5" r="10.6"/><circle cx="430.4" cy="331" r="13.3"/><circle cx="375" cy="337.4" r="2"/><circle cx="411.1" cy="346" r="12.7"/><circle cx="391.7" cy="364" r="16"/><circle cx="364.8" cy="362.9" r="9.8"/><circle cx="425" cy="371.6" r="18.4"/><circle cx="448.4" cy="357.8" r="13.3"/><circle cx="471.1" cy="370.8" r="13"/><circle cx="396.8" cy="391.4" r="11.7"/><circle cx="372.2" cy="399.6" r="12.7"/><circle cx="424" cy="396.1" r="8.8"/><circle cx="454.6" cy="395" r="13"/><circle cx="507.8" cy="384.7" r="18.6"/><circle cx="484" cy="394" r="18"/><circle cx="512.8" cy="412.3" r="11.7"/><circle cx="539" cy="413.6" r="16.2"/><circle cx="476.4" cy="420.6" r="11.7"/><circle cx="499.5" cy="436" r="11.7"/><circle cx="526.9" cy="442" r="16.8"/><circle cx="446.1" cy="422" r="1.5"/><circle cx="446" cy="448.7" r="8.7"/><circle cx="475.3" cy="450.2" r="9.2"/><circle cx="503" cy="462" r="12.7"/><circle cx="416.9" cy="425.6" r="19"/><circle cx="386.6" cy="426" r="9.6"/><circle cx="353.1" cy="417" r="1.5"/><circle cx="338.9" cy="434.8" r="3.1"/><circle cx="365.8" cy="448.7" r="1.5"/><circle cx="394.4" cy="453.2" r="1.5"/><circle cx="343" cy="465.4" r="3.1"/><circle cx="381.1" cy="478.3" r="1.3"/><circle cx="419.3" cy="459.9" r="11.7"/><circle cx="431.8" cy="479.8" r="13.7"/><circle cx="403.6" cy="488.5" r="12.7"/><circle cx="356.6" cy="485.9" r="14.3"/><circle cx="332.5" cy="493" r="11.5"/><circle cx="377" cy="504.3" r="19"/><circle cx="417.3" cy="507.4" r="11.7"/><circle cx="461.1" cy="474.2" r="13.9"/><circle cx="484.2" cy="483.4" r="13.7"/><circle cx="450.9" cy="500.4" r="15.3"/><circle cx="348.1" cy="383.7" r="9.6"/><circle cx="317.9" cy="446.4" r="12.3"/><circle cx="312.8" cy="473.6" r="13.7"/></g>
<g fill="#e1c752"><circle cx="212.8" cy="262.7" r="12.9"/><circle cx="234.9" cy="273.7" r="12.3"/><circle cx="210.8" cy="291.8" r="10.8"/><circle cx="268" cy="285.2" r="14.9"/><circle cx="247.2" cy="298.9" r="10.8"/><circle cx="287.3" cy="302.3" r="9.5"/><circle cx="196.5" cy="315.5" r="14.7"/><circle cx="226.1" cy="318.3" r="7.6"/><circle cx="256.8" cy="324.5" r="3.1"/><circle cx="285.4" cy="331.7" r="7.5"/><circle cx="203.8" cy="340.3" r="15.3"/><circle cx="233.7" cy="344.6" r="3.1"/><circle cx="261.3" cy="356" r="20.4"/><circle cx="309.1" cy="312.3" r="8.8"/><circle cx="333.5" cy="321.1" r="6.1"/><circle cx="306.6" cy="346.5" r="9.2"/><circle cx="331.2" cy="347.5" r="8.2"/><circle cx="290.2" cy="367.5" r="10.2"/><circle cx="314.8" cy="381.4" r="9.5"/><circle cx="285.5" cy="394.7" r="6.8"/><circle cx="301" cy="414.2" r="7.2"/><circle cx="203" cy="371.9" r="10.8"/><circle cx="227.1" cy="369.9" r="3.1"/><circle cx="235.7" cy="392.8" r="3.1"/><circle cx="261.3" cy="392.4" r="10.2"/><circle cx="221.6" cy="409.1" r="5.1"/><circle cx="266.9" cy="421.1" r="12.9"/><circle cx="239.6" cy="430.2" r="7.6"/><circle cx="283" cy="444" r="7.2"/><circle cx="260.3" cy="452.6" r="9.2"/></g>
</svg>
<div class="sh" style="left:128px;top:125px;width:133px;height:35px;background:#a291d9"></div>
<div class="lab t" style="left:122px;top:119px;width:133px;height:36px;">Compassionate Social<br>Justice Gen–Xers</div>
<div class="sh" style="left:599px;top:237px;width:132px;height:35px;background:#00a2f8"></div>
<div class="lab t" style="left:593px;top:231px;width:133px;height:36px;">Conservative Rational<br>Gen–Xers</div>
<div class="sh" style="left:71px;top:323px;width:91px;height:34px;background:#e1c752"></div>
<div class="lab t" style="left:65px;top:317px;width:92px;height:35px;">Young Sporty<br>Self–starters</div>
<div class="sh" style="left:550px;top:475px;width:144px;height:22px;background:#f0724e"></div>
<div class="lab t" style="left:545px;top:469px;width:144px;height:23px;">Educated Hipster Rebels</div>
<div class="src t">Source: Pulsar TRAC – Australian audience segments in the sport sponsorship conversaton on Twitter between 10<br>Oct – 11 Nov 2022.</div>
<div class="rule"></div>
<div class="logo t">PULSAR</div>
<svg width="768" height="587" style="pointer-events:none"><g stroke="#1e1e1e" stroke-width="2.6" stroke-linecap="butt"><line x1="746.4" y1="550.2" x2="746.4" y2="568.4"/><line x1="738.5" y1="554.75" x2="754.3" y2="563.85"/><line x1="738.5" y1="563.85" x2="754.3" y2="554.75"/></g></svg>
</body></html>
